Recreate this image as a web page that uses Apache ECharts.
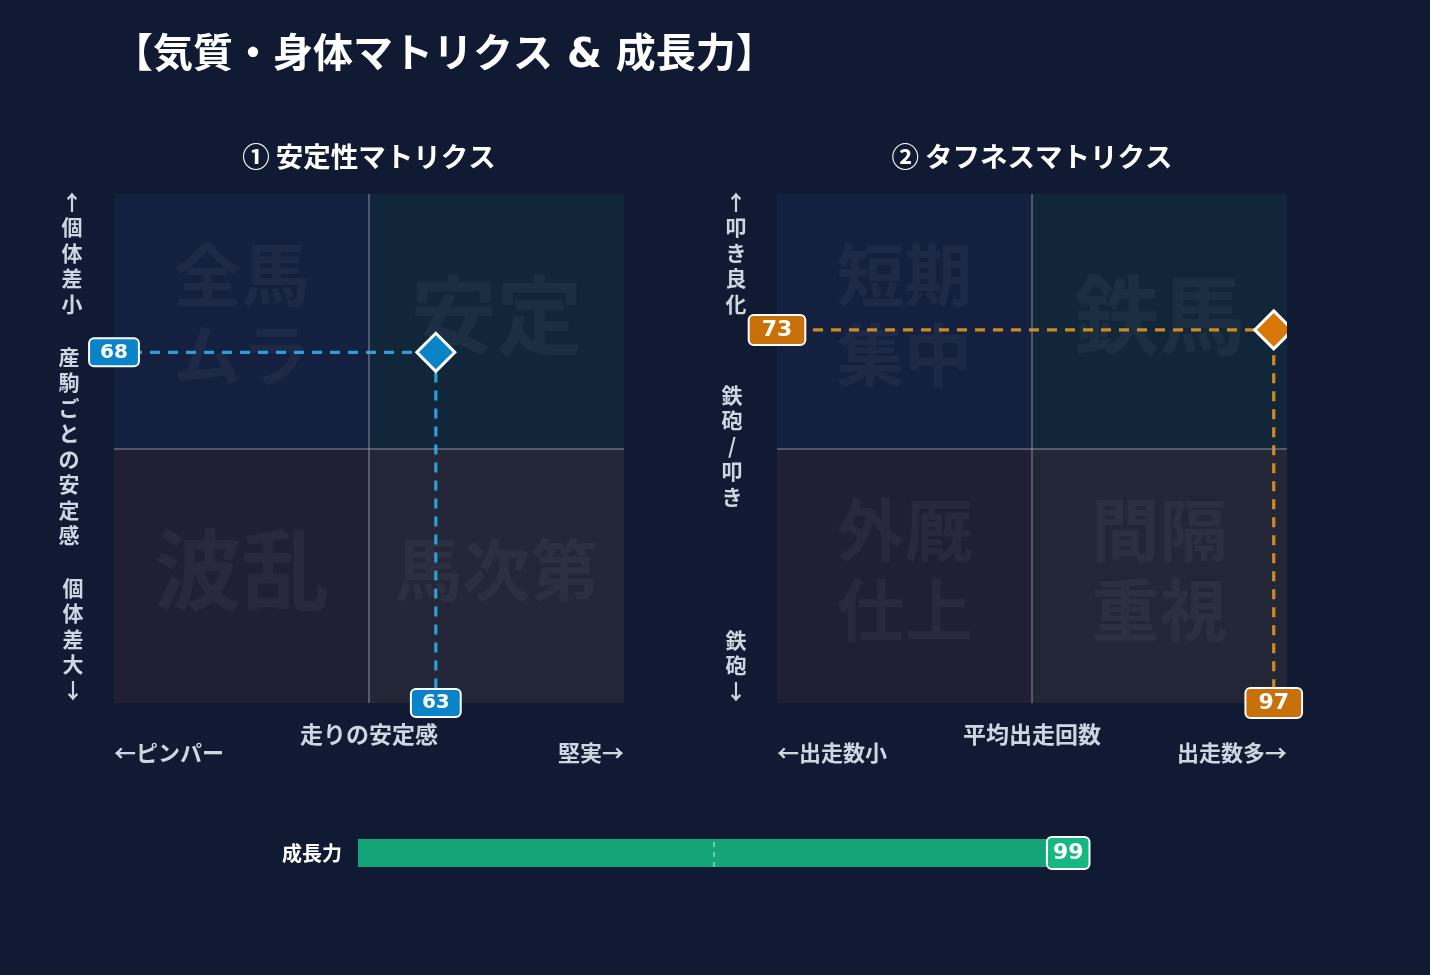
<!DOCTYPE html>
<html><head><meta charset="utf-8">
<script src="https://cdn.jsdelivr.net/npm/echarts@6/dist/echarts.min.js"></script>
<style>html,body{margin:0;padding:0;background:#101a32;}#c{width:1430px;height:975px;}</style>
</head><body><div id="c"></div>
<script>
// ---- data ----
const titleText = '【気質・身体マトリクス & 成長力】';
const panelTitles = ['① 安定性マトリクス', '② タフネスマトリクス'];
const stabilityQuadrants = ['全馬\nムラ', '安定', '波乱', '馬次第']; // TL, TR, BL, BR
const toughnessQuadrants = ['短期\n集中', '鉄馬', '外厩\n仕上', '間隔\n重視'];
const stabilityPoint = [63.1, 68.9];
const toughnessPoint = [97.4, 73.3];
const growthCategories = ['成長力'];
const growthValues = [99];
const xAxisNames = ['走りの安定感', '平均出走回数'];
const xAxisEnds = [['←ピンパー', '堅実→'], ['←出走数小', '出走数多→']];
const yAxisTexts = [['↑個体差小', '産駒ごとの安定感', '個体差大↓'], ['↑叩き良化', '鉄砲/叩き', '鉄砲↓']];

// ---- styles ----
const BG = '#101a32';
const CJK = "'Noto Sans CJK JP', sans-serif";
const NUM = "'DejaVu Sans', 'Noto Sans CJK JP', sans-serif";
const AX = '#cdd6e3';
const quadColors = ['#13203f', '#12263a', '#211f36', '#222637'];
const blue = '#0a84c8', blueLine = '#2c9fd8', orange = '#d97706', orangeBox = '#c8700a', orangeLine = '#d08a1c';

function quadrantArea(labels, sizes) {
  const rects = [[0, 50, 50, 100], [50, 50, 100, 100], [0, 0, 50, 50], [50, 0, 100, 50]];
  return rects.map((r, i) => [
    { name: labels[i], xAxis: r[0], yAxis: r[1], itemStyle: { color: quadColors[i], opacity: 1 }, label: { fontSize: sizes[i] } },
    { xAxis: r[2], yAxis: r[3] }
  ]);
}

function panelSeries(idx, labels, sizes, pt, fill, boxFill, lineColor, boxFont, boxPad) {
  return [
    { type: 'scatter', xAxisIndex: idx, yAxisIndex: idx, data: [], z: 1, silent: true,
      markArea: { silent: true, data: quadrantArea(labels, sizes),
        label: { show: true, position: 'inside', color: 'rgba(255,255,255,0.045)', fontWeight: 'bold', fontFamily: CJK, lineHeight: 80, align: 'center', verticalAlign: 'middle', offset: [0, -6] } } },
    { type: 'scatter', xAxisIndex: idx, yAxisIndex: idx, data: [], z: 2, silent: true,
      markLine: { silent: true, symbol: 'none', label: { show: false },
        lineStyle: { color: 'rgba(150,155,175,0.45)', width: 2, type: 'solid', opacity: 1 },
        data: [{ xAxis: 50 }, { yAxis: 50 }] } },
    { type: 'line', xAxisIndex: idx, yAxisIndex: idx, z: 3, silent: true, symbol: 'none', clip: false,
      lineStyle: { color: lineColor, width: 3.2, type: [10, 8], opacity: 1 },
      data: [[0, pt[1]], [pt[0], pt[1]], [pt[0], 0]] },
    { type: 'scatter', xAxisIndex: idx, yAxisIndex: idx, z: 4, clip: false, symbol: 'diamond', symbolSize: 38,
      itemStyle: { color: fill, borderColor: '#fff', borderWidth: 3, opacity: 1 }, data: [pt] },
    { type: 'scatter', xAxisIndex: idx, yAxisIndex: idx, z: 5, clip: false, symbolSize: 0,
      itemStyle: { color: boxFill, opacity: 1 },
      label: { show: true, position: 'inside', color: '#fff', fontFamily: NUM, fontWeight: 'bold', fontSize: boxFont,
        backgroundColor: boxFill, borderColor: '#fff', borderWidth: 2, borderRadius: 4, padding: boxPad,
        textBorderWidth: 0, opacity: 1,
        formatter: p => String(Math.floor(p.value[0] === 0 ? p.value[1] : p.value[0])) },
      data: [[0, pt[1]], [pt[0], 0]] }
  ];
}

function vText(x, yTop, str, size) {
  return { type: 'text', x: x, y: yTop, z: 10,
    style: { text: str.split('').join('\n'), fill: AX, font: 'bold ' + size + 'px ' + CJK, textAlign: 'center', textVerticalAlign: 'top', lineHeight: 25.5 } };
}
function hText(x, y, str, size, align, color, fam) {
  return { type: 'text', x: x, y: y, z: 10,
    style: { text: str, fill: color || AX, font: 'bold ' + size + 'px ' + (fam || CJK), textAlign: align, textVerticalAlign: 'middle' } };
}

const chart = echarts.init(document.getElementById('c'), null, { renderer: 'canvas' });
const hiddenVal = { type: 'value', min: 0, max: 100, show: false };
const option = {
  backgroundColor: BG,
  animation: false,
  grid: [
    { left: 114, top: 194, width: 510, height: 509 },
    { left: 777, top: 194, width: 510, height: 509 },
    { left: 358, top: 839, width: 712, height: 28 }
  ],
  xAxis: [
    Object.assign({ gridIndex: 0 }, hiddenVal),
    Object.assign({ gridIndex: 1 }, hiddenVal),
    Object.assign({ gridIndex: 2 }, hiddenVal)
  ],
  yAxis: [
    Object.assign({ gridIndex: 0 }, hiddenVal),
    Object.assign({ gridIndex: 1 }, hiddenVal),
    { gridIndex: 2, type: 'category', data: growthCategories, axisLine: { show: false }, axisTick: { show: false },
      axisLabel: { color: '#fff', fontFamily: CJK, fontWeight: 'bold', fontSize: 20, margin: 16 } }
  ],
  series: [
    ...panelSeries(0, stabilityQuadrants, [68, 86, 88, 68], stabilityPoint, blue, blue, blueLine, 20, [3, 10]),
    ...panelSeries(1, toughnessQuadrants, [68, 86, 68, 68], toughnessPoint, orange, orangeBox, orangeLine, 22, [3, 12]),
    { type: 'bar', xAxisIndex: 2, yAxisIndex: 2, data: growthValues, barWidth: 28, z: 2,
      itemStyle: { color: '#13a578' },
      label: { show: true, position: 'right', distance: 0, offset: [-15, 0], color: '#fff', fontFamily: NUM, fontWeight: 'bold', fontSize: 22,
        backgroundColor: '#14b880', borderColor: '#fff', borderWidth: 2, borderRadius: 4, padding: [3, 5], lineHeight: 24 },
      markLine: { silent: true, symbol: 'none', label: { show: false },
        lineStyle: { color: 'rgba(255,255,255,0.55)', width: 1.5, type: [5, 5] }, data: [{ xAxis: 50 }] } }
  ],
  graphic: [
    hText(113, 57, titleText, 40, 'left', '#ffffff', NUM),
    hText(369, 157, panelTitles[0], 27.5, 'center', '#ffffff'),
    hText(1032, 157, panelTitles[1], 27.5, 'center', '#ffffff'),
    hText(369, 734, xAxisNames[0], 23, 'center'),
    hText(114, 753, xAxisEnds[0][0], 22, 'left'),
    hText(624, 753, xAxisEnds[0][1], 22, 'right'),
    hText(1032, 734, xAxisNames[1], 23, 'center'),
    hText(777, 753, xAxisEnds[1][0], 22, 'left'),
    hText(1287, 753, xAxisEnds[1][1], 22, 'right'),
    vText(72, 189, yAxisTexts[0][0], 21),
    vText(69, 344, yAxisTexts[0][1], 21),
    vText(73, 575, yAxisTexts[0][2], 21),
    vText(736, 189, yAxisTexts[1][0], 21),
    vText(732, 382, yAxisTexts[1][1], 21),
    vText(736, 627, yAxisTexts[1][2], 21),
    { type: 'rect', z: 100, shape: { x: 1287, y: 300, width: 30, height: 60 }, style: { fill: BG } }
  ]
};
chart.setOption(option);
</script>
</body></html>
